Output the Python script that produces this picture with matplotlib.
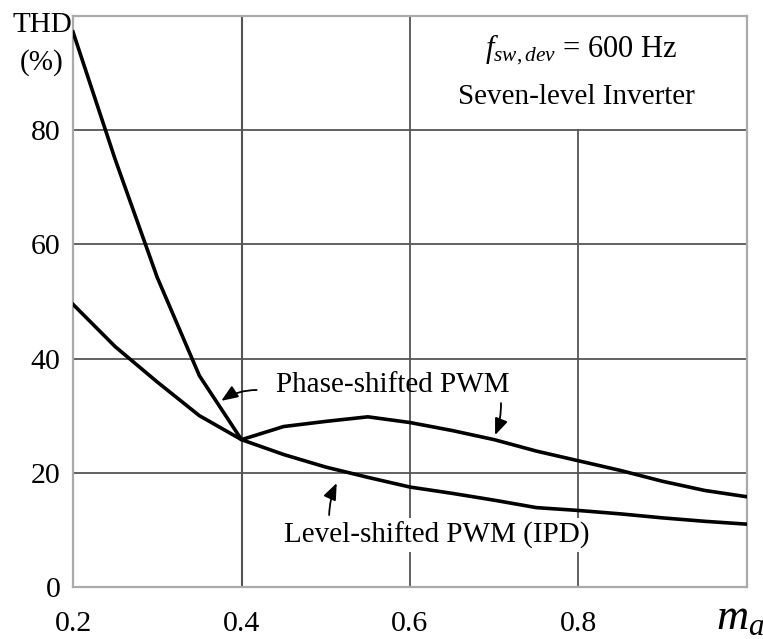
import matplotlib
matplotlib.use("Agg")
import matplotlib.pyplot as plt

plt.rcParams['font.family'] = ['Liberation Serif', 'DejaVu Serif']
plt.rcParams['mathtext.fontset'] = 'custom'
plt.rcParams['mathtext.rm'] = 'Liberation Serif'
plt.rcParams['mathtext.it'] = 'Liberation Serif:italic'

# Modulation index (m_a) and THD (%) for the two carrier schemes
ma = [0.2, 0.25, 0.3, 0.35, 0.4, 0.45, 0.5, 0.55, 0.6, 0.65, 0.7, 0.75, 0.8,
      0.85, 0.9, 0.95, 1.0]
thd_phase_shifted = [97.2, 74.9, 54.2, 37.0, 25.8, 28.1, 29.0, 29.8, 28.8, 27.4,
                     25.8, 23.8, 22.1, 20.4, 18.5, 16.9, 15.8]
thd_level_shifted = [49.5, 42.1, 35.9, 30.0, 25.8, 23.2, 21.0, 19.2, 17.5, 16.4,
                     15.2, 13.9, 13.4, 12.8, 12.1, 11.5, 11.0]

x_ticks = [0.2, 0.4, 0.6, 0.8]
x_tick_labels = ['0.2', '0.4', '0.6', '0.8']
y_ticks = [0, 20, 40, 60, 80]
y_tick_labels = ['0', '20', '40', '60', '80']

fig = plt.figure(figsize=(7.63, 6.39), dpi=100)
ax = fig.add_axes([0.0957, 0.0814, 0.8833, 0.8936])
ax.set_xlim(0.2, 1.0)
ax.set_ylim(0, 100)

grid_color = '#555555'
for y in [20, 40, 60, 80]:
    ax.axhline(y, color=grid_color, lw=1.3, zorder=1)
ax.axvline(0.4, color=grid_color, lw=1.5, zorder=1)
ax.axvline(0.6, color=grid_color, lw=1.3, zorder=1)
ax.axvline(0.8, ymax=0.8, color=grid_color, lw=1.3, zorder=1)

for s in ax.spines.values():
    s.set_color('#aaaaaa')
    s.set_linewidth(1.6)

ax.plot(ma, thd_phase_shifted, color='black', lw=2.6, zorder=4)
ax.plot(ma, thd_level_shifted, color='black', lw=2.6, zorder=4)

ax.set_xticks(x_ticks)
ax.set_xticklabels(x_tick_labels, fontsize=21.5)
ax.set_yticks(y_ticks)
ax.set_yticklabels(y_tick_labels, fontsize=21.5)
ax.tick_params(axis='both', length=0)
ax.tick_params(axis='x', pad=17)
ax.tick_params(axis='y', pad=9)

# annotations
ax.text(0.579, 35.4, 'Phase-shifted PWM', fontsize=21, ha='center', va='center',
        zorder=3)
ax.text(0.632, 9.1, 'Level-shifted PWM (IPD)', fontsize=21, ha='center',
        va='center', zorder=3,
        bbox=dict(boxstyle='square,pad=0.12', fc='white', ec='none'))
ax.text(0.803, 94.0, r'$f_{sw,dev}$ = 600 Hz', fontsize=22, ha='center',
        va='center')
ax.text(0.798, 85.8, 'Seven-level Inverter', fontsize=21, ha='center',
        va='center')

arrow = dict(arrowstyle='-|>,head_length=1.0,head_width=0.4', color='black',
             lw=1.3, shrinkA=0, shrinkB=0)
ax.annotate('', xy=(0.376, 32.6), xytext=(0.418, 34.5),
            arrowprops=dict(arrow, connectionstyle='arc3,rad=0.15'))
ax.annotate('', xy=(0.701, 26.6), xytext=(0.708, 32.2),
            arrowprops=dict(arrow, connectionstyle='arc3,rad=-0.1'))
ax.annotate('', xy=(0.513, 18.2), xytext=(0.504, 12.6),
            arrowprops=dict(arrow, connectionstyle='arc3,rad=-0.1'))

fig.text(42 / 763, 1 - 25 / 639, 'THD', fontsize=21, ha='center', va='center')
fig.text(42 / 763, 1 - 63 / 639, '(%)', fontsize=21, ha='center', va='center')
fig.text(740 / 763, 1 - 618 / 639, r'$m_a$', fontsize=32, ha='center',
         va='center')

fig.savefig('out.png', dpi=100)
